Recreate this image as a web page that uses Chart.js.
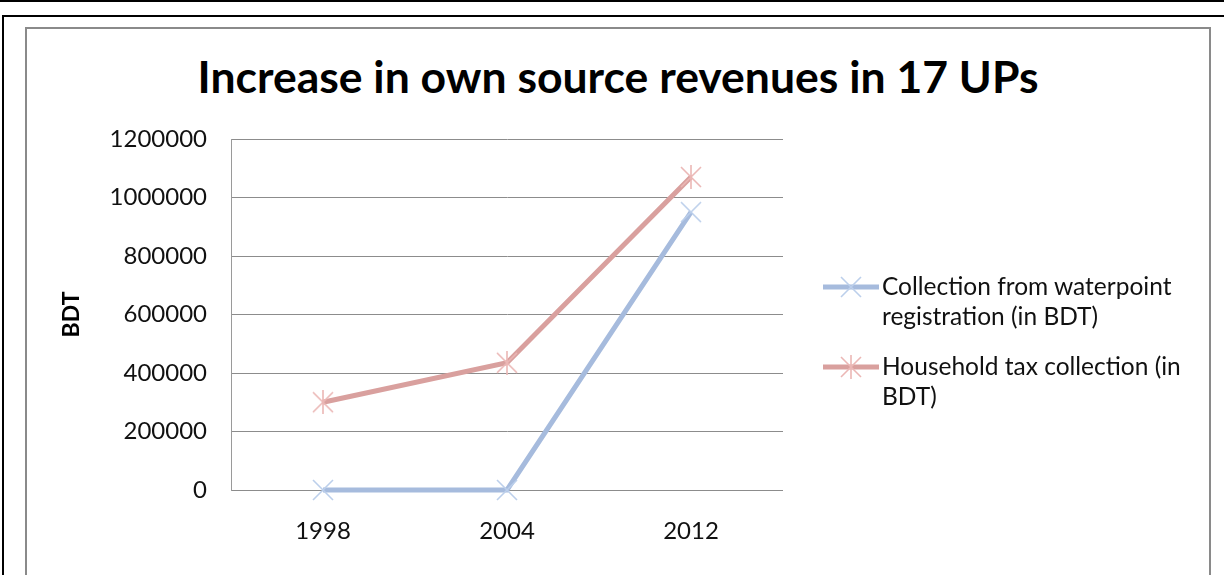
<!DOCTYPE html>
<html>
<head>
<meta charset="utf-8">
<title>Chart</title>
<script src="https://cdn.jsdelivr.net/npm/chart.js@4"></script>
<style>
  body { margin: 0; background: #fff; width: 1224px; height: 575px; overflow: hidden; position: relative; font-family: Lato, sans-serif; }
  .bar { position: absolute; background: #000; }
  #box { position: absolute; left: 25px; top: 27px; width: 1182px; height: 546px;
         border-left: 2px solid #8a8a8a; border-top: 2px solid #8a8a8a; border-right: 2px solid #8a8a8a; border-bottom: 1px solid #cfcfcf; }
  #title { position: absolute; left: 25px; width: 1186px; top: 49px; text-align: center;
           font: bold 44.5px Lato, sans-serif; line-height: 53.4px; color: #000; }
  #chart { position: absolute; left: 0; top: 0; }
  .legend-item { position: absolute; left: 823px; width: 380px; }
  .legend-item .sample { position: absolute; left: 0; top: 0; width: 56px; height: 30px; }
  .legend-item .text { position: absolute; left: 59px; top: 0; font: 24.5px Lato, sans-serif; line-height: 30px; color: #111; white-space: nowrap; }
</style>
</head>
<body>
<div class="bar" style="left:0;top:0;width:1224px;height:2px"></div>
<div class="bar" style="left:2px;top:15px;width:1222px;height:2px"></div>
<div class="bar" style="left:2px;top:15px;width:2px;height:560px"></div>
<div id="box"></div>
<div id="title">Increase in own source revenues in 17 UPs</div>
<canvas id="chart" width="1224" height="575"></canvas>
<div id="legend"></div>

<script>
document.title = "Chart"

let years = ['1998', '2004', '2012'];
let waterpoint = [0, 0, 950000];
let household = [300000, 435000, 1070000];
let seriesNames = [
    ['Collection from waterpoint', 'registration (in BDT)'],
    ['Household tax collection (in', 'BDT)']
];

let blueLine = '#a6bbdd';
let blueMark = '#bccfeb';
let redLine = '#d9a09e';
let redMark = '#ebb7b5';

// excel style markers: "x" and "x with a vertical bar"
function makeMarker(color, star) {
    let c = document.createElement('canvas');
    c.width = 24;
    c.height = 24;
    let g = c.getContext('2d');
    g.strokeStyle = color;
    g.lineWidth = 1.6;
    g.beginPath();
    g.moveTo(2, 2); g.lineTo(22, 22);
    g.moveTo(22, 2); g.lineTo(2, 22);
    if (star) {
        g.moveTo(12, 0); g.lineTo(12, 24);
    }
    g.stroke();
    return c;
}

let blueMarker = makeMarker(blueMark, false);
let redMarker = makeMarker(redMark, true);

let tickFont = { family: 'Lato', size: 24 };

const ctx = document.querySelector('#chart').getContext('2d');
let lineChart = new Chart(ctx, {
    type: 'line',
    data: {
        labels: years,
        datasets: [
            {
                label: seriesNames[0].join(' '),
                data: waterpoint,
                borderColor: blueLine,
                borderWidth: 5,
                pointStyle: blueMarker,
                pointRadius: 12,
                tension: 0,
                fill: false,
                clip: false,
            },
            {
                label: seriesNames[1].join(' '),
                data: household,
                borderColor: redLine,
                borderWidth: 5,
                pointStyle: redMarker,
                pointRadius: 12,
                tension: 0,
                fill: false,
                clip: false,
            },
        ],
    },
    options: {
        responsive: false,
        animation: false,
        layout: { padding: { left: 58, right: 441, top: 139, bottom: 0 } },
        plugins: {
            legend: { display: false },
            title: { display: false },
            tooltip: { enabled: false },
        },
        scales: {
            x: {
                offset: true,
                grid: { display: false, drawTicks: false },
                border: { display: false },
                ticks: { font: tickFont, color: '#111', padding: 27, maxRotation: 0 },
                afterFit: (scale) => { scale.height = 85; },
            },
            y: {
                min: 0,
                max: 1200000,
                ticks: {
                    stepSize: 200000,
                    font: tickFont,
                    color: '#111',
                    padding: 24,
                    callback: (v) => String(v),
                },
                grid: { color: '#8c8c8c', lineWidth: 1, drawTicks: false },
                border: { display: true, color: '#9a9a9a', width: 1 },
                title: {
                    display: true,
                    text: 'BDT',
                    font: { family: 'Lato', size: 23, weight: 'bold' },
                    color: '#000',
                    padding: { top: 0, bottom: 0 },
                },
                afterFit: (scale) => { scale.width = 173; },
            },
        },
    },
});

// legend with wrapped labels, drawn next to the plot
let legendTops = [271, 351];
let legendColors = [[blueLine, blueMarker], [redLine, redMarker]];
let legend = document.querySelector('#legend');
seriesNames.forEach((lines, i) => {
    let item = document.createElement('div');
    item.className = 'legend-item';
    item.style.top = legendTops[i] + 'px';
    let sample = document.createElement('canvas');
    sample.className = 'sample';
    sample.width = 56;
    sample.height = 30;
    let g = sample.getContext('2d');
    g.strokeStyle = legendColors[i][0];
    g.lineWidth = 5;
    g.beginPath();
    g.moveTo(0, 16);
    g.lineTo(56, 16);
    g.stroke();
    g.drawImage(legendColors[i][1], 28 - 12, 16 - 12);
    let text = document.createElement('div');
    text.className = 'text';
    text.innerHTML = lines.join('<br>');
    item.appendChild(sample);
    item.appendChild(text);
    legend.appendChild(item);
});
</script>
</body>
</html>
